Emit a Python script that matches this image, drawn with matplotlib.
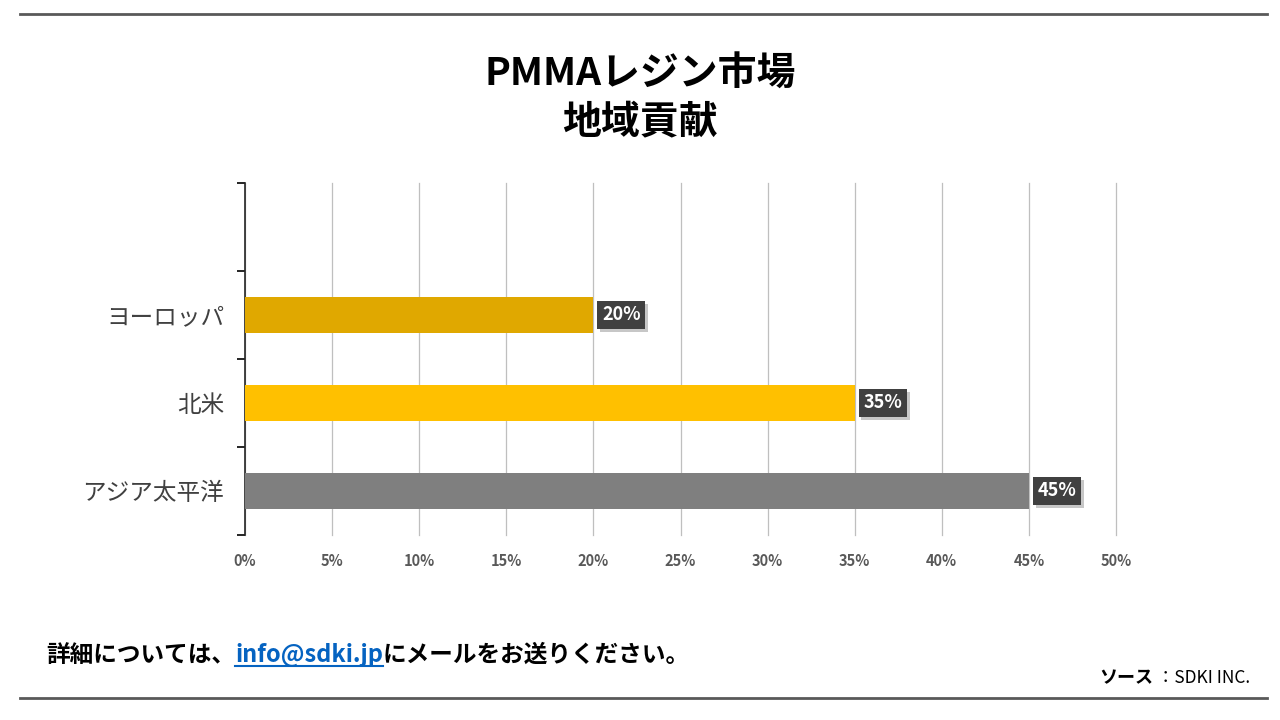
import matplotlib
matplotlib.use("Agg")
import matplotlib.pyplot as plt
import matplotlib.patheffects as pe
from matplotlib.lines import Line2D

plt.rcParams['font.family'] = ['Noto Sans CJK JP', 'DejaVu Sans']

# Daten
regions = ["アジア太平洋", "北米", "ヨーロッパ", ""]
shares = [45, 35, 20]
bar_colors = ["#7f7f7f", "#ffc000", "#e0a800"]
xticks = [0, 5, 10, 15, 20, 25, 30, 35, 40, 45, 50]

fig = plt.figure(figsize=(12.8, 7.2), dpi=100)
ax = fig.add_axes([245 / 1280, 1 - 535 / 720, (1116 - 245) / 1280, (535 - 183) / 720])

ypos = list(range(len(shares)))
ax.barh(ypos, shares, height=0.4, color=bar_colors, zorder=3)

# Datenbeschriftungen mit Schatten
for y, v in zip(ypos, shares):
    t = ax.text(v + 0.5, y, f"{v}%", va='center', ha='left', fontsize=13,
                fontweight='bold', color='white', zorder=5,
                bbox=dict(boxstyle='square,pad=0.26', fc='#404040', ec='none'))
    t.get_bbox_patch().set_path_effects([
        pe.SimplePatchShadow(offset=(2, -2), shadow_rgbFace='#b0b0b0', alpha=0.7),
        pe.Normal()])

ax.set_xlim(0, 50)
ax.set_ylim(-0.5, 3.5)
ax.set_xticks(xticks)
ax.set_xticklabels([f"{t}%" for t in xticks], fontsize=10.5, fontweight='bold', color='#595959')
ax.tick_params(axis='x', length=0, pad=13)

ax.set_yticks([-0.5, 0.5, 1.5, 2.5, 3.5])
ax.set_yticklabels([])
ax.set_yticks(range(len(regions)), minor=True)
ax.set_yticklabels(regions, minor=True, fontsize=17, color='#404040')
ax.tick_params(axis='y', which='major', length=6, width=1.2, direction='out')
ax.tick_params(axis='y', which='minor', length=0, pad=15)

ax.grid(axis='x', color='#bfbfbf', linewidth=0.9, zorder=0)
for gl in ax.get_xgridlines():
    gl.set_clip_on(False)
for s in ['top', 'right', 'bottom']:
    ax.spines[s].set_visible(False)
ax.spines['left'].set_linewidth(1.2)
ax.spines['left'].set_color('#262626')

# Titel
fig.text(0.5, 1 - 74 / 720, "PMMAレジン市場", ha='center', va='center', fontsize=28, fontweight='bold')
fig.text(0.5, 1 - 122 / 720, "地域貢献", ha='center', va='center', fontsize=28, fontweight='bold')

# Trennlinien
for yy in [14, 698]:
    fig.add_artist(Line2D([20 / 1280, 1267 / 1280], [1 - yy / 720, 1 - yy / 720],
                          color='#595959', linewidth=2))

# Fußzeile
renderer = fig.canvas.get_renderer()
parts = [("詳細については、", 'black', False), ("info@sdki.jp", '#0563c1', True),
         ("にメールをお送りください。", 'black', False)]
x0 = 46
yb = 720 - 662
for txt, col, ul in parts:
    t = fig.text(x0 / 1280, yb / 720, txt, ha='left', va='baseline', fontsize=17,
                 fontweight='bold', color=col)
    w = t.get_window_extent(renderer=renderer).width
    if ul:
        fig.add_artist(Line2D([x0 / 1280, (x0 + w) / 1280], [(yb - 4) / 720, (yb - 4) / 720],
                              color=col, linewidth=1.5))
    x0 += w

src = fig.text(1250 / 1280, 1 - 678 / 720, "：SDKI INC.", ha='right', va='center',
               fontsize=12.5, color='black')
w_src = src.get_window_extent(renderer=renderer).width
fig.text((1250 - w_src - 4) / 1280, 1 - 678 / 720, "ソース", ha='right', va='center',
         fontsize=13, fontweight='bold', color='black')

fig.savefig("out.png", dpi=100)
